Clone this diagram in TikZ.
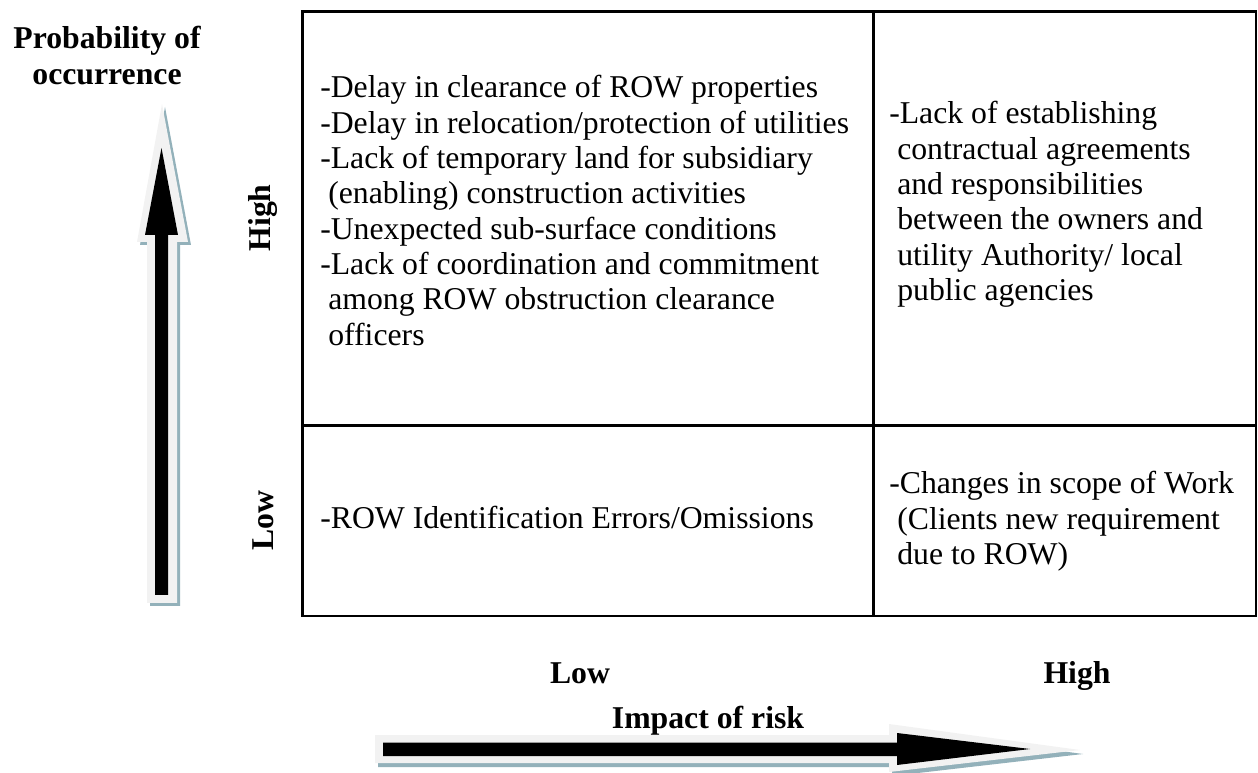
\documentclass[tikz,border=0pt]{standalone}
\usepackage{fontspec}
\setmainfont{Liberation Serif}
\definecolor{arrgray}{HTML}{F2F2F2}
\definecolor{arrshadow}{HTML}{93B1BA}
\tikzset{
  txt/.style={inner sep=0pt, anchor=base west, font=\fontsize{23.8}{26.6}\selectfont},
  lab/.style={inner sep=0pt, font=\fontsize{23.8}{26.6}\selectfont\bfseries},
  grid/.style={line width=2pt, line cap=rect},
}
\begin{document}
\begin{tikzpicture}[x=0.75pt,y=-0.75pt]
\useasboundingbox (0,0) rectangle (1258,773);
% table
\coordinate (tl) at (302.3,11.7);
\coordinate (br) at (1256,616);
\coordinate (mt) at (873.3,11.7);
\coordinate (mb) at (873.3,616);
\coordinate (ml) at (302.3,425.3);
\coordinate (mr) at (1256,425.3);
\draw[grid] (tl) rectangle (br);
\draw[grid] (mt) -- (mb);
\draw[grid] (ml) -- (mr);
% vertical arrow
\begin{scope}[shift={(3,3)}]
\fill[arrshadow] (147,603) -- (147,242) -- (137,242) -- (162,104) -- (188,242) -- (177,242) -- (177,603) -- cycle;
\end{scope}
\fill[arrgray] (147,603) -- (147,242) -- (137,242) -- (162,104) -- (188,242) -- (177,242) -- (177,603) -- cycle;
\fill[black] (155,595) -- (155,235) -- (145,235) -- (161.5,148) -- (178,235) -- (168,235) -- (168,595) -- cycle;
% horizontal arrow
\begin{scope}[shift={(3,4)}]
\fill[arrshadow] (375,735) -- (889,735) -- (889,724) -- (1080,750) -- (889,772) -- (889,763) -- (375,763) -- cycle;
\end{scope}
\fill[arrgray] (375,735) -- (889,735) -- (889,724) -- (1080,750) -- (889,772) -- (889,763) -- (375,763) -- cycle;
\fill[black] (383,742.7) -- (897,742.7) -- (897,733) -- (1030,749) -- (897,765) -- (897,756) -- (383,756) -- cycle;
% axis labels
\node[lab, anchor=base] (p1) at (107,49) {Probability of};
\node[lab, anchor=base] (p2) at (107,85) {occurrence};
\node[lab, rotate=90] (yh) at (263,218) {High};
\node[lab, rotate=90] (yl) at (263,521) {Low};
\node[lab, anchor=base] (xl) at (580,683) {Low};
\node[lab, anchor=base] (xh) at (1077,683) {High};
\node[lab, anchor=base] (imp) at (708,728) {Impact of risk};
% top-left cell
\node[txt] (a1) at (320,98) {-Delay in clearance of ROW properties};
\node[txt] (a2) at (320,133.3) {-Delay in relocation/protection of utilities};
\node[txt] (a3) at (320,168.6) {-Lack of temporary land for subsidiary};
\node[txt] (a4) at (328,203.9) {(enabling) construction activities};
\node[txt] (a5) at (320,239.2) {-Unexpected sub-surface conditions};
\node[txt] (a6) at (320,274.5) {-Lack of coordination and commitment};
\node[txt] (a7) at (328,309.8) {among ROW obstruction clearance};
\node[txt] (a8) at (328,345.1) {officers};
% top-right cell
\node[txt] (b1) at (889,124) {-Lack of establishing};
\node[txt] (b2) at (897,159.3) {contractual agreements};
\node[txt] (b3) at (897,194.6) {and responsibilities};
\node[txt] (b4) at (897,229.9) {between the owners and};
\node[txt] (b5) at (897,265.2) {utility Authority/ local};
\node[txt] (b6) at (897,300.5) {public agencies};
% bottom-left cell
\node[txt] (c1) at (320,529) {-ROW Identification Errors/Omissions};
% bottom-right cell
\node[txt] (d1) at (889,494) {-Changes in scope of Work};
\node[txt] (d2) at (897,529.3) {(Clients new requirement};
\node[txt] (d3) at (897,564.6) {due to ROW)};
\end{tikzpicture}
\end{document}
